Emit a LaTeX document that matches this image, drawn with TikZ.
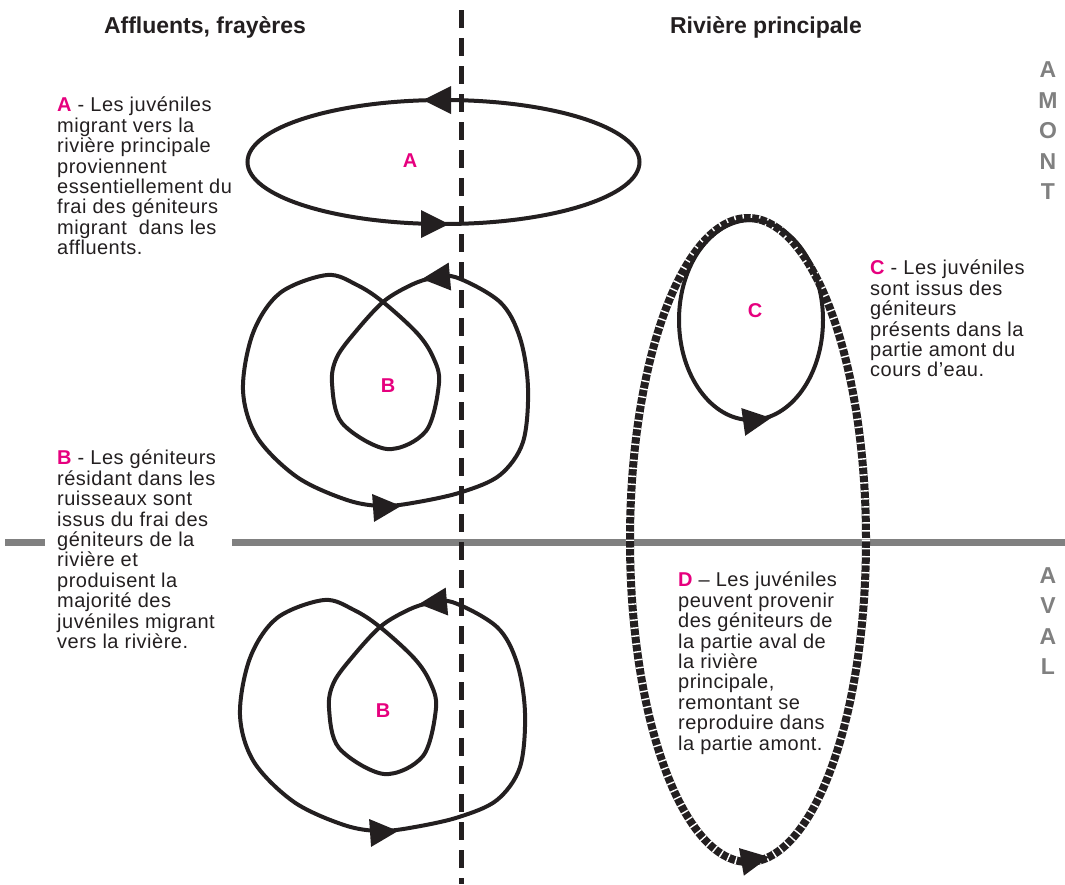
\documentclass[tikz,border=0pt]{standalone}
\usepackage{fontspec}
\setmainfont{Liberation Sans}[LetterSpace=2.5]
\newfontfamily\headfont{Liberation Sans}
\definecolor{pinkc}{HTML}{E6007E}
\definecolor{grayc}{HTML}{808080}
\definecolor{ink}{HTML}{231F20}
\tikzset{
  pics/headtip/.style={code={\fill[ink] (0,0) -- (-28,-14) -- (-28,14) -- cycle;}},
  pics/bloop/.style={code={
    \draw[loopline] plot[smooth cycle, tension=0.55] coordinates {
      (67,-109) (40,-107) (19,-99) (-5,-84) (-31,-56) (-51,-29) (-56,-3) (-46,37)
      (-1,63) (38,45) (51,-3) (45,-29) (29,-53) (-5,-84) (-31,-101)
      (-61,-111) (-108,-93) (-135,-53) (-145,4) (-131,51) (-91,91) (-41,114)
      (-5,120) (30,116) (74,106) (112,89) (135,56) (140,2) (132,-48) (112,-84)};
  }}
}
\begin{document}
\begin{tikzpicture}[x=1pt,y=-1pt,
  loopline/.style={draw=ink, line width=4pt},
  bodytext/.style={align=left, anchor=north west, inner sep=0pt,
    font=\fontsize{20}{20.4}\selectfont, text=ink},
  lab/.style={font=\headfont\fontsize{20}{20}\selectfont\bfseries, text=pinkc, inner sep=0pt},
  side/.style={font=\headfont\fontsize{23}{30.5}\selectfont\bfseries, text=grayc, align=center, inner sep=0pt},
  head/.style={font=\headfont\fontsize{23}{23}\selectfont\bfseries, text=ink, inner sep=0pt}
]
\useasboundingbox (0,0) rectangle (1065,884);

% headings
\node[head] (h1) at (205,27) {Affluents, frayères};
\node[head] (h2) at (766,27) {Rivière principale};

% side labels
\node[side] (amont) at (1048,131) {A\\M\\O\\N\\T};
\node[side] (aval) at (1048,621) {A\\V\\A\\L};

% horizontal limit amont/aval
\coordinate (g1) at (5,542);
\coordinate (g2) at (45,542);
\coordinate (g3) at (232,542);
\coordinate (g4) at (1065,542);
\draw[grayc, line width=7pt] (g1) -- (g2);
\draw[grayc, line width=7pt] (g3) -- (g4);

% D : big hatched ellipse
\draw[ink, line width=8pt] (748,540) ellipse [x radius=118, y radius=322];
\draw[white, line width=8.2pt, dash pattern=on 1.4pt off 6.6pt] (748,540) ellipse [x radius=118, y radius=322];
\pic[rotate=10] at (769,857) {headtip};

% C loop
\draw[loopline] (751,320) ellipse [x radius=72, y radius=100];
\pic[rotate=8] at (771,418) {headtip};
\node[lab] (lc) at (755,311) {C};

% A loop
\draw[loopline] (443.5,162) ellipse [x radius=196, y radius=62];
\pic[rotate=180] at (423,100) {headtip};
\pic at (449,224) {headtip};
\node[lab] (la) at (410,161) {A};

% B loops
\pic at (388,386) {bloop};
\pic[rotate=185] at (422,279) {headtip};
\pic[rotate=4] at (401,506) {headtip};
\node[lab] (lb1) at (388,386) {B};

\pic at (385,711) {bloop};
\pic[rotate=185] at (419,604) {headtip};
\pic[rotate=4] at (398,831) {headtip};
\node[lab] (lb2) at (383,711) {B};

% river / tributary boundary
\coordinate (v1) at (461,10);
\coordinate (v2) at (461,884);
\draw[ink, line width=5pt, dash pattern=on 18pt off 10pt] (v1) -- (v2);

% texts
\node[bodytext] (ta) at (57,97) {\textcolor{pinkc}{\bfseries A} - Les juvéniles\\migrant vers la\\rivière principale\\proviennent\\essentiellement du\\frai des géniteurs\\migrant\ \ dans les\\affluents.};
\node[bodytext] (tb) at (57,450) {\textcolor{pinkc}{\bfseries B} - Les géniteurs\\résidant dans les\\ruisseaux sont\\issus du frai des\\géniteurs de la\\rivière et\\produisent la\\majorité des\\juvéniles migrant\\vers la rivière.};
\node[bodytext] (tc) at (870,260) {\textcolor{pinkc}{\bfseries C} - Les juvéniles\\sont issus des\\géniteurs\\présents dans la\\partie amont du\\cours d’eau.};
\node[bodytext] (td) at (678,572) {\textcolor{pinkc}{\bfseries D} – Les juvéniles\\peuvent provenir\\des géniteurs de\\la partie aval de\\la rivière\\principale,\\remontant se\\reproduire dans\\la partie amont.};
\end{tikzpicture}
\end{document}
